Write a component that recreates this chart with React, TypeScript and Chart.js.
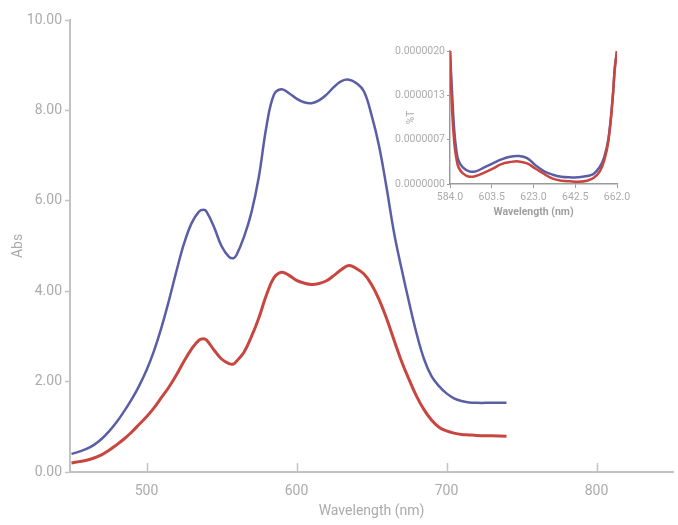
import React, { useEffect, useRef } from "react";
import { Chart, registerables } from "chart.js";

Chart.register(...registerables);

// ---- Main spectrum data ----
const wavelengths = [
  450, 455, 460, 465, 470, 475, 480, 485, 490, 495, 500, 505, 510, 515, 520, 525, 530, 535, 538, 540,
  545, 550, 555, 558, 560, 565, 570, 575, 580, 585, 590, 595, 600, 605, 610, 615, 620, 625, 630, 635,
  640, 645, 650, 655, 660, 665, 670, 675, 680, 685, 690, 695, 700, 705, 710, 715, 720, 730, 740,
];
const absBlue = [
  0.40, 0.45, 0.51, 0.60, 0.73, 0.90, 1.10, 1.34, 1.60, 1.90, 2.25, 2.68, 3.20, 3.80, 4.45, 5.05, 5.50, 5.76, 5.80, 5.76,
  5.42, 5.00, 4.76, 4.73, 4.80, 5.20, 5.75, 6.55, 7.65, 8.35, 8.47, 8.38, 8.26, 8.18, 8.16, 8.22, 8.35, 8.52, 8.65, 8.68,
  8.60, 8.42, 7.90, 7.22, 6.30, 5.30, 4.50, 3.76, 3.07, 2.50, 2.12, 1.90, 1.74, 1.63, 1.57, 1.54, 1.53, 1.53, 1.53,
];
const absRed = [
  0.20, 0.23, 0.26, 0.31, 0.38, 0.48, 0.60, 0.73, 0.88, 1.05, 1.22, 1.42, 1.65, 1.88, 2.15, 2.45, 2.72, 2.92, 2.95, 2.92,
  2.70, 2.50, 2.40, 2.39, 2.45, 2.65, 3.00, 3.42, 3.92, 4.30, 4.42, 4.35, 4.24, 4.18, 4.15, 4.17, 4.23, 4.35, 4.48, 4.57,
  4.50, 4.38, 4.15, 3.82, 3.40, 2.92, 2.45, 2.05, 1.68, 1.38, 1.15, 0.99, 0.91, 0.86, 0.83, 0.82, 0.81, 0.80, 0.79,
];
const mainXTicks = [500, 600, 700, 800];

// ---- Inset (%T) data, values in units of 1e-6 ----
const insetWavelengths = [
  584, 585, 586, 587, 588, 590, 593, 596, 600, 604, 608, 612, 616, 620, 624, 628, 632, 636, 640, 644,
  648, 651, 654, 656, 658, 660, 661, 662,
];
const insetBlue = [
  2.0, 1.35, 0.80, 0.50, 0.35, 0.25, 0.19, 0.19, 0.25, 0.31, 0.37, 0.41, 0.42, 0.39, 0.28, 0.19, 0.14, 0.11, 0.10, 0.10,
  0.12, 0.15, 0.26, 0.40, 0.68, 1.30, 1.75, 2.0,
];
const insetRed = [
  2.0, 1.10, 0.62, 0.38, 0.25, 0.16, 0.11, 0.12, 0.17, 0.23, 0.30, 0.33, 0.34, 0.31, 0.23, 0.15, 0.08, 0.05, 0.04, 0.035,
  0.05, 0.09, 0.19, 0.35, 0.65, 1.30, 1.75, 2.0,
];
const insetXTicks = [584.0, 603.5, 623.0, 642.5, 662.0];
const insetYTicks = [0, 2 / 3, 4 / 3, 2];

const BLUE = "#5a5ea5";
const RED = "#c8463f";
const AXIS = "#c2c2c2";
const TEXT = "#ababab";
const FONT = "Roboto";

const innerTicks = {
  id: "innerTicks",
  afterDraw(chart: any) {
    const x = chart.scales.x;
    const { ctx, chartArea } = chart;
    ctx.save();
    ctx.strokeStyle = AXIS;
    ctx.lineWidth = 1.5;
    x.ticks.forEach((t: any) => {
      const px = Math.round(x.getPixelForValue(t.value)) + 0.5;
      ctx.beginPath();
      ctx.moveTo(px, chartArea.bottom);
      ctx.lineTo(px, chartArea.bottom - 9);
      ctx.stroke();
    });
    ctx.restore();
  },
};

export default function App() {
  const mainRef = useRef<HTMLCanvasElement>(null);
  const insetRef = useRef<HTMLCanvasElement>(null);

  useEffect(() => {
    const main = new Chart(mainRef.current!, {
      type: "line",
      data: {
        datasets: [
          {
            label: "Blue",
            data: wavelengths.map((w, i) => ({ x: w, y: absBlue[i] })),
            borderColor: BLUE,
            borderWidth: 2.5,
            pointRadius: 0,
            tension: 0.4,
          },
          {
            label: "Red",
            data: wavelengths.map((w, i) => ({ x: w, y: absRed[i] })),
            borderColor: RED,
            borderWidth: 3,
            pointRadius: 0,
            tension: 0.4,
          },
        ],
      },
      options: {
        animation: false,
        responsive: false,
        layout: { padding: { top: 20, right: 5, left: 0, bottom: 0 } },
        plugins: { legend: { display: false }, tooltip: { enabled: false } },
        scales: {
          x: {
            type: "linear",
            min: 449,
            max: 851,
            afterBuildTicks: (s: any) => {
              s.ticks = mainXTicks.map((v) => ({ value: v }));
            },
            afterFit: (s: any) => {
              s.height = 53;
            },
            grid: { display: false, drawTicks: false },
            border: { display: true, color: AXIS, width: 2 },
            ticks: {
              color: TEXT,
              font: { family: FONT, size: 14 },
              padding: 11,
              maxRotation: 0,
              callback: (v: any) => String(v),
            },
            title: {
              display: true,
              text: "Wavelength (nm)",
              color: TEXT,
              font: { family: FONT, size: 14 },
              padding: { top: 0, bottom: 5 },
            },
          },
          y: {
            type: "linear",
            min: 0,
            max: 10,
            afterBuildTicks: (s: any) => {
              s.ticks = [0, 2, 4, 6, 8, 10].map((v) => ({ value: v }));
            },
            afterFit: (s: any) => {
              s.width = 70;
            },
            grid: {
              display: true,
              drawOnChartArea: false,
              drawTicks: true,
              tickLength: 5,
              tickColor: AXIS,
              tickWidth: 1.5,
              color: AXIS,
            },
            border: { display: true, color: AXIS, width: 2 },
            ticks: {
              color: TEXT,
              font: { family: FONT, size: 14 },
              padding: 3,
              callback: (v: any) => Number(v).toFixed(2),
            },
            title: {
              display: true,
              text: "Abs",
              color: TEXT,
              font: { family: FONT, size: 14 },
              padding: { top: 10, bottom: 0 },
            },
          },
        },
      },
      plugins: [innerTicks],
    } as any);

    const inset = new Chart(insetRef.current!, {
      type: "line",
      data: {
        datasets: [
          {
            label: "Red",
            data: insetWavelengths.map((w, i) => ({ x: w, y: insetRed[i] * 1e-6 })),
            borderColor: RED,
            borderWidth: 2.5,
            pointRadius: 0,
            tension: 0.4,
          },
          {
            label: "Blue",
            data: insetWavelengths.map((w, i) => ({ x: w, y: insetBlue[i] * 1e-6 })),
            borderColor: BLUE,
            borderWidth: 2.5,
            pointRadius: 0,
            tension: 0.4,
          },
        ],
      },
      options: {
        animation: false,
        responsive: false,
        layout: { padding: { top: 13, right: 18, left: 0, bottom: 0 } },
        plugins: { legend: { display: false }, tooltip: { enabled: false } },
        scales: {
          x: {
            type: "linear",
            min: 584,
            max: 662,
            afterBuildTicks: (s: any) => {
              s.ticks = insetXTicks.map((v) => ({ value: v }));
            },
            afterFit: (s: any) => {
              s.height = 44;
            },
            grid: {
              display: true,
              drawOnChartArea: false,
              tickLength: 4,
              tickColor: "#9a9a9a",
              tickWidth: 1,
            },
            border: { display: true, color: "#9a9a9a", width: 1.5 },
            ticks: {
              color: TEXT,
              font: { family: FONT, size: 10.5 },
              padding: 3,
              maxRotation: 0,
              autoSkip: false,
              callback: (v: any) => Number(v).toFixed(1),
            },
            title: {
              display: true,
              text: "Wavelength (nm)",
              color: "#a0a0a0",
              font: { family: FONT, size: 10.5, weight: "bold" },
              padding: { top: 0, bottom: 9 },
            },
          },
          y: {
            type: "linear",
            min: 0,
            max: 2e-6,
            afterBuildTicks: (s: any) => {
              s.ticks = insetYTicks.map((v) => ({ value: v * 1e-6 }));
            },
            afterFit: (s: any) => {
              s.width = 60;
            },
            grid: {
              display: true,
              drawOnChartArea: false,
              tickLength: 3,
              tickColor: "#9a9a9a",
              tickWidth: 1,
            },
            border: { display: true, color: "#9a9a9a", width: 1.5 },
            ticks: {
              color: TEXT,
              font: { family: FONT, size: 10.5 },
              padding: 2,
              autoSkip: false,
              callback: (v: any) => Number(v).toFixed(7),
            },
            title: {
              display: true,
              text: "%T",
              color: TEXT,
              font: { family: FONT, size: 10 },
              padding: { top: 15, bottom: 0 },
            },
          },
        },
      },
    } as any);

    return () => {
      main.destroy();
      inset.destroy();
    };
  }, []);

  return (
    <div style={{ position: "absolute", left: 0, top: 0, width: 678, height: 525, background: "#fff" }}>
      <canvas
        ref={mainRef}
        width={678}
        height={525}
        style={{ position: "absolute", left: 0, top: 0, width: 678, height: 525 }}
      />
      <canvas
        ref={insetRef}
        width={245}
        height={190}
        style={{ position: "absolute", left: 390, top: 38, width: 245, height: 190 }}
      />
    </div>
  );
}
